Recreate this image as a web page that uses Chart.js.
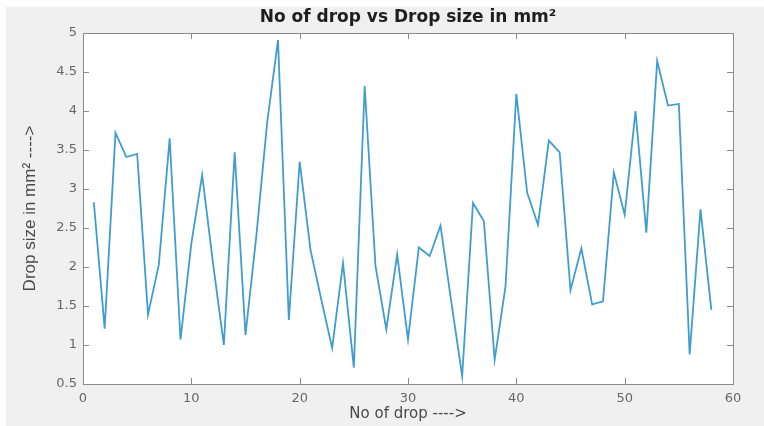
<!DOCTYPE html>
<html>
<head>
<meta charset="utf-8">
<script src="https://cdn.jsdelivr.net/npm/chart.js@4.4.1/dist/chart.umd.min.js"></script>
<style>
  html, body { margin: 0; padding: 0; background: #ffffff; }
  #wrap { position: absolute; left: 6px; top: 7px; width: 758px; height: 419px; background: #f0f0f0; }
</style>
</head>
<body>
<div id="wrap"><canvas id="dropChart" width="758" height="419"></canvas></div>
<script>
const dropNo = [1, 2, 3, 4, 5, 6, 7, 8, 9, 10, 11, 12, 13, 14, 15, 16, 17, 18, 19, 20,
  21, 22, 23, 24, 25, 26, 27, 28, 29, 30, 31, 32, 33, 34, 35, 36, 37, 38, 39, 40,
  41, 42, 43, 44, 45, 46, 47, 48, 49, 50, 51, 52, 53, 54, 55, 56, 57, 58];
const dropSize = [2.83, 1.21, 3.72, 3.41, 3.45, 1.39, 2.03, 3.65, 1.07, 2.30,
  3.18, 2.05, 1.00, 3.47, 1.13, 2.40, 3.85, 4.91, 1.32, 3.35,
  2.22, 1.58, 0.96, 2.05, 0.71, 4.32, 2.01, 1.20, 2.16, 1.07,
  2.25, 2.14, 2.53, 1.55, 0.60, 2.82, 2.59, 0.81, 1.75, 4.22,
  2.95, 2.54, 3.62, 3.47, 1.70, 2.24, 1.52, 1.56, 3.21, 2.67,
  4.00, 2.44, 4.64, 4.07, 4.09, 0.88, 2.74, 1.45];
const xTicks = [0, 10, 20, 30, 40, 50, 60];
const yTicks = [0.5, 1, 1.5, 2, 2.5, 3, 3.5, 4, 4.5, 5];

const axisGray = '#8a8a8a';
const tickFont = { family: "'DejaVu Sans', sans-serif", size: 13 };

// white plot box, then MATLAB style frame with inward ticks on all four sides
const matlabBox = {
  id: 'matlabBox',
  beforeDraw(chart) {
    const a = chart.chartArea;
    const ctx = chart.ctx;
    ctx.save();
    ctx.fillStyle = '#ffffff';
    ctx.fillRect(a.left, a.top, a.right - a.left, a.bottom - a.top);
    ctx.restore();
  },
  afterDraw(chart) {
    const a = chart.chartArea;
    const ctx = chart.ctx;
    const xs = chart.scales.x;
    const ys = chart.scales.y;
    const len = 6;
    ctx.save();
    ctx.strokeStyle = axisGray;
    ctx.lineWidth = 1;
    ctx.strokeRect(a.left + 0.5, a.top + 0.5, a.right - a.left, a.bottom - a.top);
    ctx.beginPath();
    xs.ticks.forEach(t => {
      const px = Math.round(xs.getPixelForValue(t.value)) + 0.5;
      ctx.moveTo(px, a.bottom);
      ctx.lineTo(px, a.bottom - len);
      ctx.moveTo(px, a.top);
      ctx.lineTo(px, a.top + len);
    });
    ys.ticks.forEach(t => {
      const py = Math.round(ys.getPixelForValue(t.value)) + 0.5;
      ctx.moveTo(a.left, py);
      ctx.lineTo(a.left + len, py);
      ctx.moveTo(a.right, py);
      ctx.lineTo(a.right - len, py);
    });
    ctx.stroke();
    ctx.restore();
  }
};

const ctx = document.getElementById('dropChart').getContext('2d');
new Chart(ctx, {
  type: 'line',
  data: {
    datasets: [{
      data: dropNo.map((n, i) => ({ x: n, y: dropSize[i] })),
      borderColor: '#409dd0',
      borderWidth: 1.8,
      pointRadius: 0,
      tension: 0,
      fill: false
    }]
  },
  options: {
    responsive: false,
    animation: false,
    layout: { padding: { left: 0, right: 31, top: 0, bottom: 0 } },
    plugins: {
      legend: { display: false },
      tooltip: { enabled: false },
      title: {
        display: true,
        text: 'No of drop vs Drop size in mm\u00B2',
        color: '#1e1e1e',
        fullSize: false,
        font: { family: "'DejaVu Sans', sans-serif", size: 17, weight: 'bold' },
        padding: { top: 0, bottom: 5.6 }
      }
    },
    scales: {
      x: {
        type: 'linear',
        min: 0,
        max: 60,
        afterBuildTicks: s => { s.ticks = xTicks.map(v => ({ value: v })); },
        afterFit: s => { s.height = 42; },
        grid: { display: false, drawTicks: false },
        border: { display: false },
        ticks: { color: '#666666', font: tickFont, padding: 7, maxRotation: 0, callback: v => String(v) },
        title: {
          display: true,
          text: 'No of drop ---->',
          color: '#4a4a4a',
          font: { family: "'DejaVu Sans', sans-serif", size: 15 },
          padding: { top: 0, bottom: 3 }
        }
      },
      y: {
        min: 0.5,
        max: 5,
        afterBuildTicks: s => { s.ticks = yTicks.map(v => ({ value: v })); },
        afterFit: s => { s.width = 77; },
        grid: { display: false, drawTicks: false },
        border: { display: false },
        ticks: { color: '#666666', font: tickFont, padding: 6, callback: v => String(v) },
        title: {
          display: true,
          text: 'Drop size in mm\u00B2 ---->',
          color: '#4a4a4a',
          font: { family: "'Liberation Sans', Arial, sans-serif", size: 17 },
          padding: { top: 14, bottom: 0 }
        }
      }
    }
  },
  plugins: [matlabBox]
});
</script>
</body>
</html>
